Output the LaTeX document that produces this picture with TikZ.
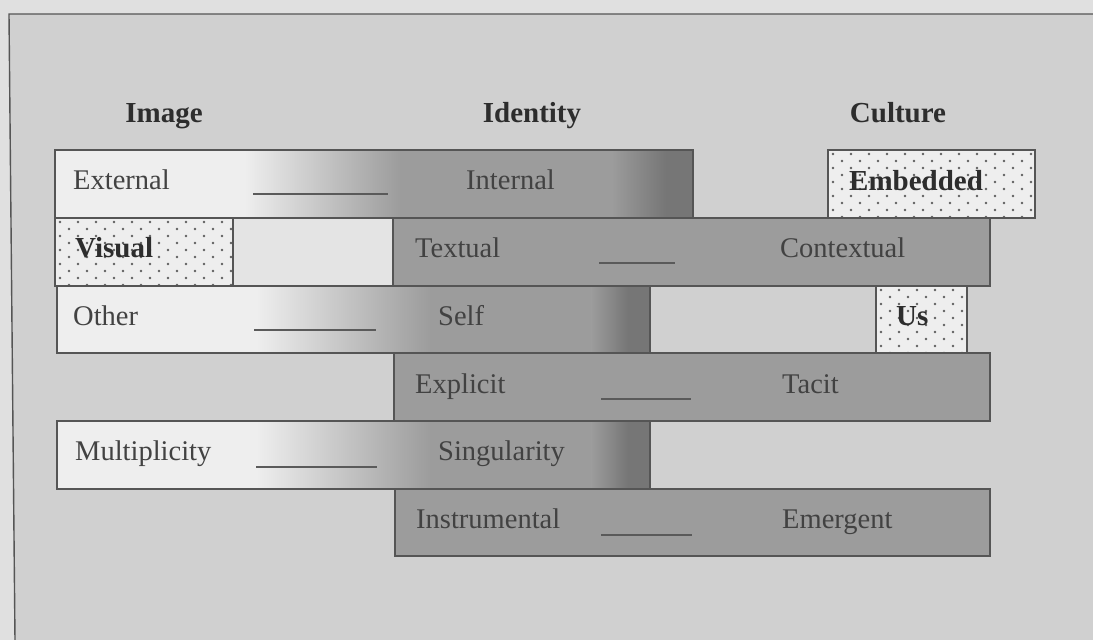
\documentclass[tikz,border=0pt]{standalone}
\usepackage{fontspec}
\setmainfont{Liberation Serif}
\begin{document}
\begin{tikzpicture}[x=1pt,y=-1pt,
  barframe/.style={draw=edgec, line width=1.6pt, inner sep=0pt, outer sep=0pt},
  lbl/.style={anchor=base west, inner sep=0pt, text=txtc, font=\fontsize{28.5}{34}\selectfont},
  blbl/.style={lbl, font=\fontsize{29}{34}\selectfont\bfseries, text=headc},
  head/.style={anchor=base, inner sep=0pt, text=headc, font=\fontsize{29}{34}\selectfont\bfseries},
  blank/.style={draw=linec, line width=1.3pt},
  dot/.style={fill=dotc}]
\definecolor{bgout}{RGB}{224,224,224}
\definecolor{bgin}{RGB}{208,208,208}
\definecolor{barlight}{RGB}{238,238,238}
\definecolor{bargray}{RGB}{156,156,156}
\definecolor{bardark}{RGB}{118,118,118}
\definecolor{boxlight}{RGB}{228,228,228}
\definecolor{edgec}{RGB}{85,85,85}
\definecolor{txtc}{RGB}{66,66,66}
\definecolor{headc}{RGB}{45,45,45}
\definecolor{linec}{RGB}{90,90,90}
\definecolor{dotc}{RGB}{95,95,95}

% page and frame
\useasboundingbox (0,0) rectangle (1093,640);
\fill[bgout] (0,0) rectangle (1093,640);
\fill[bgin] (9,14) -- (1093,14) -- (1093,640) -- (15,640) -- cycle;
\draw[edgec, line width=1.4pt] (1093,14) -- (9,14) -- (15,640);

% column headings
\node[head] (himage) at (164,122) {Image};
\node[head] (hidentity) at (532,122) {Identity};
\node[head] (hculture) at (898,122) {Culture};

% ---- fills of the bars ----
% External / Internal
\fill[barlight] (55,150) rectangle (245,218);
\shade[left color=barlight, right color=bargray] (244.5,150) rectangle (400.5,218);
\fill[bargray] (400,150) rectangle (612,218);
\shade[left color=bargray, right color=bardark] (611.5,150) rectangle (666,218);
\fill[bardark] (665.5,150) rectangle (693,218);
% Other / Self
\fill[barlight] (57,286) rectangle (257,353);
\shade[left color=barlight, right color=bargray] (256.5,286) rectangle (430.5,353);
\fill[bargray] (430,286) rectangle (592,353);
\shade[left color=bargray, right color=bardark] (591.5,286) rectangle (628,353);
\fill[bardark] (627.5,286) rectangle (650,353);
% Multiplicity / Singularity
\fill[barlight] (57,421) rectangle (257,489);
\shade[left color=barlight, right color=bargray] (256.5,421) rectangle (430.5,489);
\fill[bargray] (430,421) rectangle (592,489);
\shade[left color=bargray, right color=bardark] (591.5,421) rectangle (628,489);
\fill[bardark] (627.5,421) rectangle (650,489);
% plain bars
\fill[bargray] (393,218) rectangle (990,286);
\fill[bargray] (394,353) rectangle (990,421);
\fill[bargray] (395,489) rectangle (990,556);
\fill[boxlight] (233,218) rectangle (393,286);

% dotted boxes
\fill[barlight] (828,150) rectangle (1035,218);
\fill[barlight] (55,218) rectangle (233,286);
\fill[barlight] (876,286) rectangle (967,353);
\begin{scope}
  \clip (828,150) rectangle (1035,218);
  \foreach \r in {0,...,9} \foreach \c in {0,...,11}
    \fill[dot] ({828+5+\c*18+mod(\r,2)*9},{150+4+\r*7}) circle[radius=1.35];
\end{scope}
\begin{scope}
  \clip (55,218) rectangle (233,286);
  \foreach \r in {0,...,9} \foreach \c in {0,...,10}
    \fill[dot] ({55+5+\c*18+mod(\r,2)*9},{218+4+\r*7}) circle[radius=1.35];
\end{scope}
\begin{scope}
  \clip (876,286) rectangle (967,353);
  \foreach \r in {0,...,9} \foreach \c in {0,...,5}
    \fill[dot] ({876+5+\c*18+mod(\r,2)*9},{286+4+\r*7}) circle[radius=1.35];
\end{scope}

% ---- outlines of the bars ----
\node[barframe, minimum width=638pt, minimum height=68pt] (extint) at (374,184) {};
\node[barframe, minimum width=207pt, minimum height=68pt] (embedded) at (931.5,184) {};
\node[barframe, minimum width=178pt, minimum height=68pt] (visual) at (144,252) {};
\node[barframe, minimum width=160pt, minimum height=68pt] (gapbox) at (313,252) {};
\node[barframe, minimum width=597pt, minimum height=68pt] (textcon) at (691.5,252) {};
\node[barframe, minimum width=593pt, minimum height=67pt] (othself) at (353.5,319.5) {};
\node[barframe, minimum width=91pt, minimum height=67pt] (us) at (921.5,319.5) {};
\node[barframe, minimum width=596pt, minimum height=68pt] (exptac) at (692,387) {};
\node[barframe, minimum width=593pt, minimum height=68pt] (multsing) at (353.5,455) {};
\node[barframe, minimum width=595pt, minimum height=67pt] (instem) at (692.5,522.5) {};

% ---- labels ----
\node[lbl] (external) at (73,189) {External};
\node[lbl] (internal) at (466,189) {Internal};
\node[blbl] (lembedded) at (849,190) {Embedded};
\node[blbl] (lvisual) at (75,257) {Visual};
\node[lbl] (textual) at (415,257) {Textual};
\node[lbl] (contextual) at (780,257) {Contextual};
\node[lbl] (other) at (73,325) {Other};
\node[lbl] (self) at (438,325) {Self};
\node[blbl] (lus) at (896,325) {Us};
\node[lbl] (explicit) at (415,393) {Explicit};
\node[lbl] (tacit) at (782,393) {Tacit};
\node[lbl] (multiplicity) at (75,460) {Multiplicity};
\node[lbl] (singularity) at (438,460) {Singularity};
\node[lbl] (instrumental) at (416,528) {Instrumental};
\node[lbl] (emergent) at (782,528) {Emergent};

% ---- blanks between the paired terms ----
\coordinate (b1a) at (253,194); \coordinate (b1b) at (388,194);
\coordinate (b2a) at (599,263); \coordinate (b2b) at (675,263);
\coordinate (b3a) at (254,330); \coordinate (b3b) at (376,330);
\coordinate (b4a) at (601,399); \coordinate (b4b) at (691,399);
\coordinate (b5a) at (256,467); \coordinate (b5b) at (377,467);
\coordinate (b6a) at (601,535); \coordinate (b6b) at (692,535);
\draw[blank] (b1a) -- (b1b);
\draw[blank] (b2a) -- (b2b);
\draw[blank] (b3a) -- (b3b);
\draw[blank] (b4a) -- (b4b);
\draw[blank] (b5a) -- (b5b);
\draw[blank] (b6a) -- (b6b);
\end{tikzpicture}
\end{document}
